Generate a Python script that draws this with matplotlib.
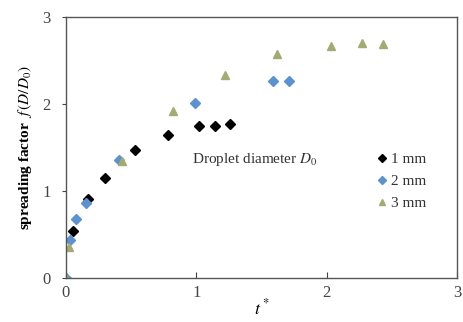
import matplotlib
matplotlib.use("Agg")
import matplotlib.pyplot as plt

# data
t1 = [0.055, 0.17, 0.30, 0.53, 0.78, 1.02, 1.14, 1.26]
f1 = [0.54, 0.91, 1.15, 1.47, 1.64, 1.75, 1.75, 1.77]
t2 = [0.0, 0.03, 0.08, 0.15, 0.41, 0.99, 1.59, 1.71]
f2 = [0.0, 0.44, 0.68, 0.86, 1.36, 2.01, 2.26, 2.26]
t3 = [0.0, 0.02, 0.43, 0.82, 1.22, 1.62, 2.03, 2.27, 2.43]
f3 = [0.0, 0.36, 1.35, 1.92, 2.33, 2.57, 2.67, 2.70, 2.69]
labels = ["1 mm", "2 mm", "3 mm"]
xticks = [0, 1, 2, 3]
yticks = [0, 1, 2, 3]

plt.rcParams['font.family'] = ['Liberation Serif', 'DejaVu Serif']
plt.rcParams['mathtext.fontset'] = 'stix'

fig = plt.figure(figsize=(4.64, 3.22), dpi=100)
ax = fig.add_axes([66/464, (322-278)/322, (457-66)/464, (278-17)/322])

ax.plot(t1, f1, linestyle='none', marker='D', color='black', markersize=5, label=labels[0])
ax.plot(t2, f2, linestyle='none', marker='D', color='#5b93d0', markersize=5, label=labels[1])
ax.plot(t3, f3, linestyle='none', marker='^', color='#a3aa72', markersize=6, label=labels[2])

ax.set_xlim(0, 3)
ax.set_ylim(0, 3)
ax.set_xticks(xticks)
ax.set_yticks(yticks)
ax.tick_params(axis='x', direction='in', length=4, labelsize=12, colors='#444444', pad=5)
ax.tick_params(axis='y', direction='out', length=3, labelsize=12, colors='#444444', pad=8)
for s in ax.spines.values():
    s.set_color('#555555')
    s.set_linewidth(1.0)

ax.set_ylabel(r'spreading factor  $f\,(D/D_0)$', fontsize=11, fontweight='bold', labelpad=6)
ax.set_xlabel(r'$t^*$', fontsize=13, labelpad=-2)

ax.text(0.97, 1.36, r'Droplet diameter $D_0$', fontsize=11, color='#333333', va='center', ha='left')

leg = ax.legend(loc='upper left', bbox_to_anchor=(0.78, 0.505), frameon=False, fontsize=11,
                handlelength=0.6, handletextpad=0.3, labelspacing=0.55, borderaxespad=0,
                markerscale=0.8)
for t in leg.get_texts():
    t.set_color('#333333')

fig.savefig('out.png', dpi=100)
